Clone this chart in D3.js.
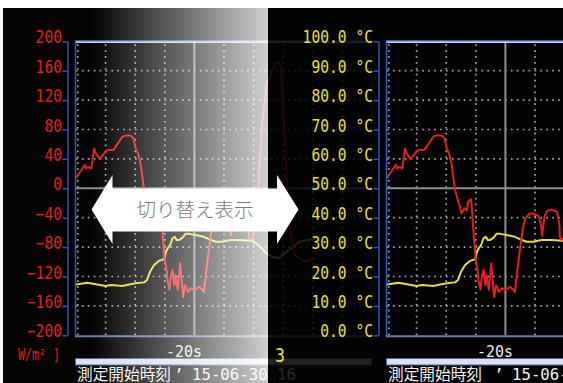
<!DOCTYPE html>
<html>
<head>
<meta charset="utf-8">
<script src="https://cdn.jsdelivr.net/npm/d3@7"></script>
<style>
  html, body { margin: 0; padding: 0; background: #ffffff; }
  svg { display: block; }
</style>
</head>
<body>
<svg id="chart" width="563" height="383"></svg>
<script>
// ---- recorded traces (time in s) ----
const irrTime = [-40, -38.5, -38.3, -38, -37.4, -36.95, -36.7, -36, -35, -34.6, -33.7, -33, -32.2, -31.6, -30.8,
  -30.3, -29.9, -29.5, -29.1, -28.5, -28.1, -27.4, -26.9, -26.5, -26.3, -25.8, -25.6, -25.3, -25, -24.7,
  -24.5, -24.2, -24, -23.7, -23.4, -23.2, -22.8, -22.4, -22.2, -21.9, -21.6, -21.3, -21.1, -20.6, -20.1,
  -19.5, -19.2, -18.8, -18.4, -18.1, -17.7, -17.4, -17, -16.6, -16, -15.3, -14.4, -14, -13.8, -13.4,
  -13, -12.2, -11.3, -10.9, -10.8, -10.5, -10.1, -9.4, -9.2, -8.6, -7.8, -7.2, -6.4, -5.8, -5.4,
  -5.1, -4.7, -4.3, -3.85, -3, -1.3, 0.4];
const irrValue = [14, 32, 27, 29, 27, 54, 48, 40, 50, 52, 52, 60, 70, 72, 72,
  68, 54, 47, 34, -2, -14, -34, -27, -30, -18, -15, -34, -70, -98, -111,
  -127, -138, -122, -111, -132, -118, -138, -102, -120, -148, -132, -136, -141, -136, -138,
  -136, -134, -137, -141, -120, -93, -75, -52, -41, -35, -34, -38, -48, -64, -39,
  -31, -29, -32, -48, -66, -70, -68, -16, -2, 84, 143, 152, 168, 172, 165,
  120, 66, -2, -57, -91, -100, -95];

const tempTime = [-40, -38.1, -36.4, -35, -34.1, -33, -32.2, -31, -29.9, -28.5, -28, -27.5, -26.8, -26, -25.1,
  -24.8, -24.5, -24.1, -23.7, -23.3, -23, -22.6, -22, -21.5, -20.9, -19.8, -18.4, -17.2, -16.4, -15.3,
  -13.9, -12.2, -10.3, -9.2, -8.1, -6.9, -5.8, -4.4, -2.2, 0.4];
const tempValue = [17.3, 17.9, 17.3, 16.8, 17.1, 16.9, 16.8, 17.3, 17.7, 18.0, 18.8, 21.6, 23.9, 25.3, 25.9,
  28.4, 29.6, 30.7, 33.0, 33.5, 32.4, 32.4, 33.2, 34.5, 34.5, 34.1, 33.5, 32.4, 31.8, 31.8,
  32.4, 32.4, 32.2, 30.7, 28.4, 26.7, 26.2, 28.4, 31.8, 33.0];

// ---- axis ticks and labels ----
const irrTicks = [200, 160, 120, 80, 40, 0, -40, -80, -120, -160, -200];
const tempTicks = [100, 90, 80, 70, 60, 50, 40, 30, 20, 10, 0];
const timeGrid = [-40, -35, -30, -25, -20, -15, -10, -5, 0, 5, 10];
const cursorTime = -20;
const cursorLabel = "-20s";
const irrUnit = "W/m² ]";
const startLabel = "測定開始時刻";
const startStamp = "15-06-30 16";
const pageLabel = "3";
const switchLabel = "切り替え表示";

// ---- layout ----
const W = 563, H = 383;
const plotTop = 41.3, plotBottom = 335.3, plotWidth = 296;
const monoFont = "'DejaVu Sans Mono', 'Liberation Mono', monospace";
const cjkFont = "'Noto Sans CJK JP', 'Noto Sans CJK SC', sans-serif";
const RED = "#e41e1e", YELLOW = "#e2de3a", BLUE = "#2f5cc4";

const svg = d3.select("#chart");
const defs = svg.append("defs");

svg.append("rect").attr("width", W).attr("height", H).attr("fill", "#ffffff");
svg.append("rect").attr("x", 3).attr("y", 8).attr("width", W - 3).attr("height", H - 8).attr("fill", "#050303");

const yIrr = d3.scaleLinear().domain([-200, 200]).range([plotBottom, plotTop]);
const yTemp = d3.scaleLinear().domain([0, 100]).range([plotBottom, plotTop]);

// one recorder screen: value axis on the left, trend plot to its right
function drawScreen(id, x0, mode, stampShift) {
  const g = svg.append("g").attr("class", "screen-" + id);
  const x = d3.scaleLinear().domain([timeGrid[0], timeGrid[timeGrid.length - 1]]).range([x0, x0 + plotWidth]);

  // value axis
  const yAxisScale = mode === "irr" ? yIrr : yTemp;
  const ticks = mode === "irr" ? irrTicks : tempTicks;
  const fmt = mode === "irr" ? d3.format("d") : (v => d3.format(".1f")(v) + " °C");
  const color = mode === "irr" ? RED : "#e6e22c";
  const axisG = g.append("g").attr("transform", `translate(${x0 - 8.5},0)`)
    .call(d3.axisLeft(yAxisScale).tickValues(ticks).tickFormat(fmt).tickSize(5).tickSizeOuter(0));
  axisG.select(".domain").attr("stroke", BLUE).attr("stroke-width", 1.4);
  axisG.selectAll(".tick line").attr("stroke", BLUE).attr("stroke-width", 1.4);
  axisG.selectAll(".tick text").each(function(d) {
    const s = fmt(d);
    const len = s.length * 8.8;
    d3.select(this)
      .attr("x", -5.5 - len).attr("y", 1.5).attr("dy", null)
      .attr("text-anchor", "start")
      .attr("textLength", len).attr("lengthAdjust", "spacingAndGlyphs")
      .attr("fill", color)
      .style("font-family", monoFont).style("font-size", "17px");
  });

  const clipId = "clip-" + id;
  defs.append("clipPath").attr("id", clipId)
    .append("rect").attr("x", x0).attr("y", plotTop).attr("width", plotWidth).attr("height", plotBottom - plotTop);
  const p = g.append("g").attr("clip-path", `url(#${clipId})`);

  // dotted grid
  const dotted = { stroke: "#a4a4a4", width: 1.7, dash: "1.7 4.2" };
  irrTicks.filter(v => v !== 200 && v !== -200 && v !== 0).forEach(v => {
    p.append("line").attr("x1", x0).attr("x2", x0 + plotWidth).attr("y1", yIrr(v)).attr("y2", yIrr(v))
      .attr("stroke", dotted.stroke).attr("stroke-width", dotted.width).attr("stroke-dasharray", dotted.dash);
  });
  timeGrid.filter(t => t !== cursorTime).forEach(t => {
    const xx = t === timeGrid[0] ? x(t) + 1.8 : x(t);
    p.append("line").attr("x1", xx).attr("x2", xx).attr("y1", plotTop + 3).attr("y2", plotBottom)
      .attr("stroke", dotted.stroke).attr("stroke-width", dotted.width).attr("stroke-dasharray", dotted.dash);
  });
  // centre line and time cursor
  p.append("line").attr("x1", x0).attr("x2", x0 + plotWidth).attr("y1", yIrr(0)).attr("y2", yIrr(0))
    .attr("stroke", "#8e8e8e").attr("stroke-width", 2);
  p.append("line").attr("x1", x(cursorTime)).attr("x2", x(cursorTime)).attr("y1", plotTop).attr("y2", plotBottom)
    .attr("stroke", "#8e8e8e").attr("stroke-width", 2);

  // traces
  const tempLine = d3.line().x((d, i) => x(tempTime[i])).y(d => yTemp(d));
  const irrLine = d3.line().x((d, i) => x(irrTime[i])).y(d => yIrr(d));
  p.append("path").attr("d", tempLine(tempValue)).attr("fill", "none")
    .attr("stroke", YELLOW).attr("stroke-width", 2).attr("stroke-linejoin", "round");
  p.append("path").attr("d", irrLine(irrValue)).attr("fill", "none")
    .attr("stroke", RED).attr("stroke-width", 2).attr("stroke-linejoin", "round");

  // frame
  g.append("line").attr("x1", x0 - 0.5).attr("x2", x0 - 0.5).attr("y1", plotTop - 1).attr("y2", plotBottom + 1)
    .attr("stroke", BLUE).attr("stroke-width", 1.5);
  g.append("line").attr("x1", x0 - 1).attr("x2", x0 + plotWidth).attr("y1", plotTop - 0.6).attr("y2", plotTop - 0.6)
    .attr("stroke", BLUE).attr("stroke-width", 1.2);
  g.append("line").attr("x1", x0).attr("x2", x0 + plotWidth).attr("y1", plotTop + 0.8).attr("y2", plotTop + 0.8)
    .attr("stroke", "#c9d3e6").attr("stroke-width", 1.6);
  g.append("line").attr("x1", x0 - 1).attr("x2", x0 + plotWidth).attr("y1", plotBottom + 1).attr("y2", plotBottom + 1)
    .attr("stroke", "#6a80b0").attr("stroke-width", 2);

  // time label and scroll bar
  g.append("text").attr("x", x(cursorTime) - 28.5).attr("y", 357)
    .attr("textLength", 36).attr("lengthAdjust", "spacingAndGlyphs")
    .attr("fill", "#eeeeee").style("font-family", monoFont).style("font-size", "16.5px").text(cursorLabel);
  g.append("rect").attr("x", x0 - 0.5).attr("y", 358.5).attr("width", plotWidth).attr("height", 6.5)
    .attr("fill", "#dde0e6").attr("stroke", "#4466b0").attr("stroke-width", 1);

  // start time line
  g.append("text").attr("x", x0 + 1).attr("y", 379.5)
    .attr("textLength", 94).attr("lengthAdjust", "spacingAndGlyphs")
    .attr("fill", "#f2f2f2").style("font-family", cjkFont).style("font-size", "15.5px").text(startLabel);
  g.append("text").attr("x", x0 + 98 + stampShift).attr("y", 379.5)
    .attr("fill", "#f2f2f2").style("font-family", monoFont).style("font-size", "16px").text("’");
  g.append("text").attr("x", x0 + 116 + stampShift).attr("y", 379.5)
    .attr("textLength", 104).attr("lengthAdjust", "spacingAndGlyphs")
    .attr("fill", "#f2f2f2").style("font-family", monoFont).style("font-size", "16px").text(startStamp);

  if (mode === "irr") {
    g.append("text").attr("x", 18).attr("y", 360)
      .attr("textLength", 42).attr("lengthAdjust", "spacingAndGlyphs")
      .attr("fill", RED).style("font-family", monoFont).style("font-size", "16px").text(irrUnit);
  }
  return g;
}

// left screen (irradiance scale)
drawScreen("irr", 76, "irr", 0);

// fade-to-white veil over the left screen
const fade = defs.append("linearGradient").attr("id", "fade")
  .attr("gradientUnits", "userSpaceOnUse").attr("x1", 92).attr("x2", 268).attr("y1", 0).attr("y2", 0);
fade.append("stop").attr("offset", 0).attr("stop-color", "#ffffff").attr("stop-opacity", 0);
fade.append("stop").attr("offset", 1).attr("stop-color", "#ffffff").attr("stop-opacity", 0.81);
svg.append("rect").attr("x", 92).attr("y", 8).attr("width", 176).attr("height", H - 8).attr("fill", "url(#fade)");

// right screen laid over the left one
svg.append("rect").attr("x", 268).attr("y", 8).attr("width", W - 268).attr("height", H - 8)
  .attr("fill", "#050303").attr("opacity", 0.86);
drawScreen("temp", 387, "temp", 9);

svg.append("text").attr("x", 275).attr("y", 362)
  .attr("textLength", 10).attr("lengthAdjust", "spacingAndGlyphs")
  .attr("fill", "#e8e42c").style("font-family", monoFont).style("font-size", "19px").text(pageLabel);

// double-headed switch arrow
const arrow = d3.path();
arrow.moveTo(91.5, 209.5);
arrow.lineTo(112.5, 175);
arrow.lineTo(112.5, 188.5);
arrow.lineTo(277, 188.5);
arrow.lineTo(277, 175);
arrow.lineTo(298.5, 209.5);
arrow.lineTo(277, 244);
arrow.lineTo(277, 231.5);
arrow.lineTo(112.5, 231.5);
arrow.lineTo(112.5, 244);
arrow.closePath();
svg.append("path").attr("d", arrow.toString()).attr("fill", "#ffffff");
svg.append("text").attr("x", 195).attr("y", 217).attr("text-anchor", "middle")
  .attr("fill", "#7c7c7c").style("font-family", cjkFont).style("font-size", "19.5px").style("font-weight", 300)
  .text(switchLabel);
</script>
</body>
</html>
